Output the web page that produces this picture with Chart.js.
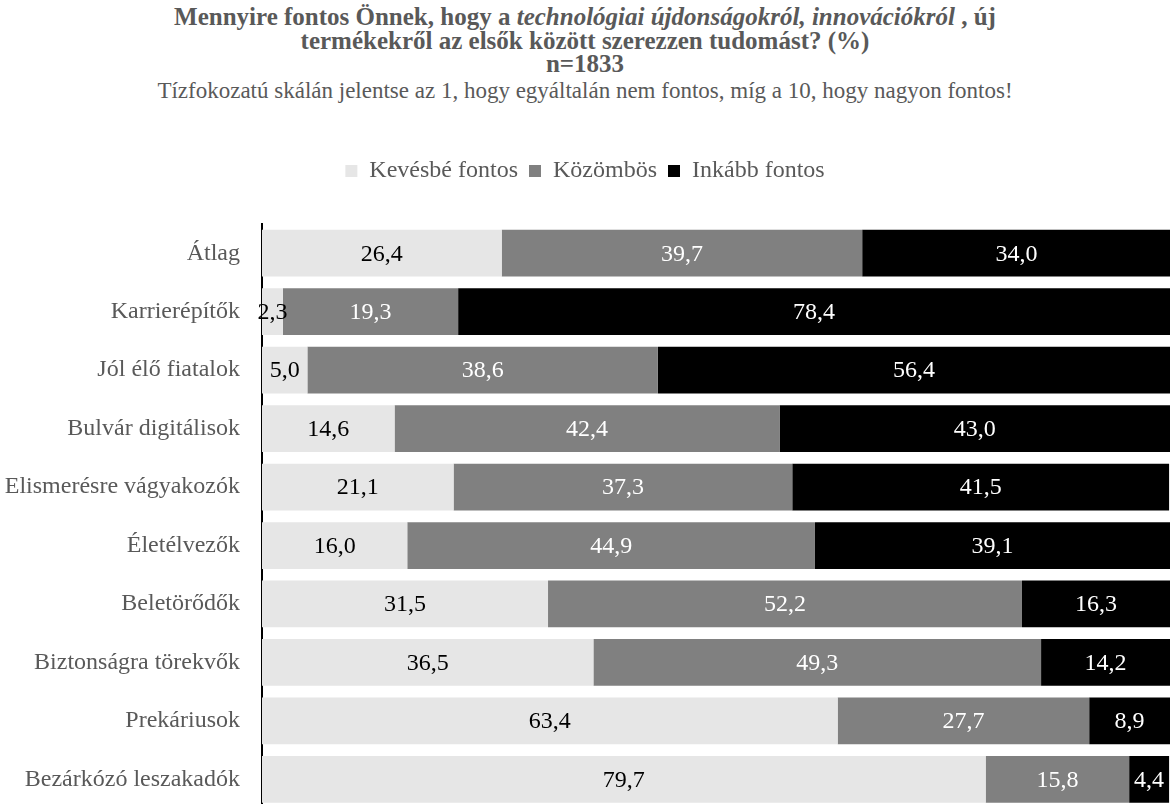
<!DOCTYPE html>
<html>
<head>
<meta charset="utf-8">
<script src="https://cdn.jsdelivr.net/npm/chart.js@4.4.0/dist/chart.umd.min.js"></script>
<style>
  html, body { margin: 0; padding: 0; width: 1170px; height: 804px; overflow: hidden; background: #fff; }
  #head { position: absolute; left: 0; top: 5px; width: 1170px; text-align: center; font-family: "Liberation Serif", "Times New Roman", serif; color: #595959; }
  #head .t { font-weight: bold; font-size: 25px; line-height: 23.5px; }
  #head .s { font-size: 23px; line-height: 24px; margin-top: 3px; }
  #wrap { position: absolute; left: 0; top: 148px; }
</style>
</head>
<body>
<div id="head">
  <div class="t">Mennyire fontos Önnek, hogy a <i>technológiai újdonságokról, innovációkról</i> , új<br>termékekről az elsők között szerezzen tudomást? (%)<br>n=1833</div>
  <div class="s">Tízfokozatú skálán jelentse az 1, hogy egyáltalán nem fontos, míg a 10, hogy nagyon fontos!</div>
</div>
<div id="wrap"><canvas id="chart" width="1170" height="697"></canvas></div>
<script>
const categories = [
  'Átlag', 'Karrierépítők', 'Jól élő fiatalok', 'Bulvár digitálisok',
  'Elismerésre vágyakozók', 'Életélvezők', 'Beletörődők',
  'Biztonságra törekvők', 'Prekáriusok', 'Bezárkózó leszakadók',
];
const seriesNames = ['Kevésbé fontos', 'Közömbös', 'Inkább fontos'];
const kevesbe = [26.4, 2.3, 5.0, 14.6, 21.1, 16.0, 31.5, 36.5, 63.4, 79.7];
const kozombos = [39.7, 19.3, 38.6, 42.4, 37.3, 44.9, 52.2, 49.3, 27.7, 15.8];
const inkabb = [34.0, 78.4, 56.4, 43.0, 41.5, 39.1, 16.3, 14.2, 8.9, 4.4];

const colors = ['#e6e6e6', '#808080', '#000000'];
const labelColors = ['#000000', '#ffffff', '#ffffff'];
const FONT = '"Liberation Serif", "Times New Roman", serif';

// number in the middle of each segment, Hungarian decimal comma
const valueLabels = {
  id: 'valueLabels',
  afterDatasetsDraw(chart) {
    const { ctx } = chart;
    ctx.save();
    ctx.font = `24px ${FONT}`;
    ctx.textAlign = 'center';
    ctx.textBaseline = 'middle';
    chart.data.datasets.forEach((ds, i) => {
      chart.getDatasetMeta(i).data.forEach((bar, j) => {
        const left = Math.min(bar.x, bar.base);
        const right = Math.max(bar.x, bar.base);
        ctx.fillStyle = labelColors[i];
        ctx.fillText(ds.data[j].toFixed(1).replace('.', ','), (left + right) / 2, bar.y + 1);
      });
    });
    ctx.restore();
  },
};

const legendHeight = {
  id: 'legendHeight',
  beforeInit(chart) {
    const fit = chart.legend.fit;
    chart.legend.fit = function () {
      fit.bind(chart.legend)();
      this.height = 76;
    };
  },
};

new Chart(document.getElementById('chart'), {
  type: 'bar',
  data: {
    labels: categories,
    datasets: [kevesbe, kozombos, inkabb].map((data, i) => ({
      label: seriesNames[i],
      data,
      backgroundColor: colors[i],
      borderWidth: 0,
      barPercentage: 0.8,
      categoryPercentage: 1,
    })),
  },
  options: {
    indexAxis: 'y',
    responsive: false,
    animation: false,
    layout: { padding: 0 },
    plugins: {
      legend: {
        position: 'top',
        labels: {
          font: { family: FONT, size: 24 },
          color: '#595959',
          boxWidth: 12,
          boxHeight: 12,
          padding: 11,
        },
      },
      tooltip: { enabled: false },
    },
    scales: {
      x: {
        stacked: true,
        min: 0,
        max: 100,
        display: false,
      },
      y: {
        stacked: true,
        grid: { display: false, drawTicks: false },
        border: { display: true, color: '#000', width: 2 },
        ticks: {
          font: { family: FONT, size: 24 },
          color: '#595959',
          padding: 22,
        },
        afterFit: (scale) => { scale.width = 262; },
      },
    },
  },
  plugins: [valueLabels, legendHeight],
});
</script>
</body>
</html>
